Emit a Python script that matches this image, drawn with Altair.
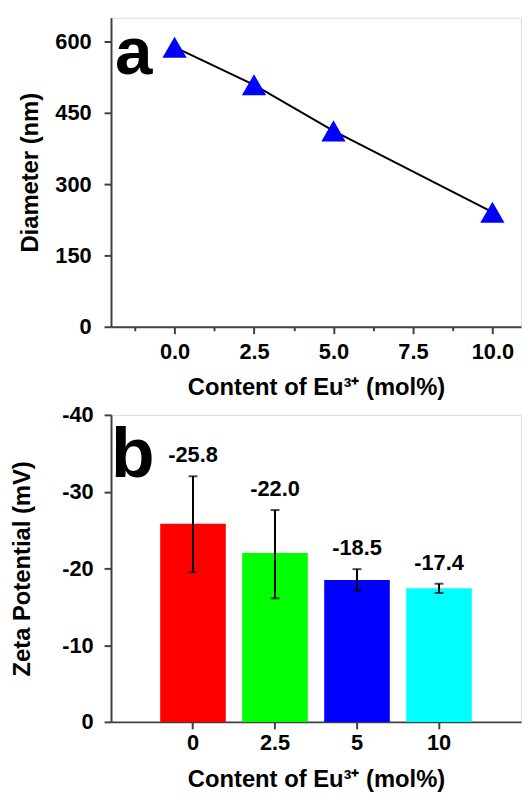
import altair as alt
import pandas as pd

# ---- panel a data ----
eu_a = [0, 2.5, 5, 10]
diameter = [588, 509, 412, 241]
x_ticks_a = [-1.25, 0, 1.25, 2.5, 3.75, 5, 6.25, 7.5, 8.75, 10]
y_ticks_a = [0, 75, 150, 225, 300, 375, 450, 525, 600]

# ---- panel b data ----
eu_b = ["0", "2.5", "5", "10"]
zeta = [-25.8, -22.0, -18.5, -17.4]
zeta_lo = [-19.5, -16.1, -17.1, -16.8]
zeta_hi = [-32.0, -27.6, -19.9, -18.0]
zeta_text = ["-25.8", "-22.0", "-18.5", "-17.4"]
bar_colors = ["#FF0000", "#00FF00", "#0000FF", "#00FFFF"]
y_ticks_b = [0, -5, -10, -15, -20, -25, -30, -35, -40]

panel_letters = ["a", "b"]

FONT = "Liberation Sans"
XTITLE = "Content of Eu\u00b3\u207a (mol%)"

df_a = pd.DataFrame({"eu": eu_a, "d": diameter})
df_b = pd.DataFrame({"cat": eu_b, "z": zeta, "lo": zeta_lo, "hi": zeta_hi, "t": zeta_text})


def tick_size(test):
    return {"condition": {"test": test, "value": 7}, "value": 4}


common_axis = dict(
    labelFont=FONT, labelFontSize=22, labelFontWeight="bold", labelColor="black",
    titleFont=FONT, titleFontSize=24, titleFontWeight="bold", titleColor="black",
    domainColor="#404040", domainWidth=2, tickColor="#404040", tickWidth=2,
    grid=False, labelOverlap=False, labelFlush=False,
)

xa = alt.X(
    "eu:Q",
    scale=alt.Scale(domain=[-2, 10.9], nice=False, zero=False),
    axis=alt.Axis(
        values=x_ticks_a,
        labelExpr="datum.value % 2.5 === 0 ? format(datum.value, '.1f') : ''",
        tickSize=tick_size("datum.value % 2.5 === 0"),
        labelPadding=8,
        titlePadding=13,
        title=XTITLE,
        **common_axis,
    ),
)
ya = alt.Y(
    "d:Q",
    scale=alt.Scale(domain=[0, 650], nice=False),
    axis=alt.Axis(
        values=y_ticks_a,
        labelExpr="datum.value % 150 === 0 ? '' + datum.value : ''",
        tickSize=tick_size("datum.value % 150 === 0"),
        labelPadding=13,
        titlePadding=12,
        title="Diameter (nm)",
        **common_axis,
    ),
)

line_a = alt.Chart(df_a).mark_line(color="black", strokeWidth=2).encode(x=xa, y=ya)
pts_a = alt.Chart(df_a).mark_point(
    shape="triangle-up", filled=True, size=600, color="#0000FF", opacity=1
).encode(x="eu:Q", y="d:Q")
letter_a = alt.Chart(pd.DataFrame({"L": [panel_letters[0]]})).mark_text(
    font=FONT, fontSize=68, fontWeight="bold", align="left", baseline="alphabetic",
    color="black",
).encode(x=alt.value(4), y=alt.value(57), text="L:N")

panel_a = alt.layer(line_a, pts_a, letter_a).properties(width=414, height=312)

xb = alt.X(
    "cat:N",
    sort=eu_b,
    scale=alt.Scale(paddingInner=0.2, paddingOuter=0.6),
    axis=alt.Axis(
        labelAngle=0, tickSize=7, labelPadding=4, titlePadding=14,
        title=XTITLE, **common_axis,
    ),
)
yb = alt.Y(
    "z:Q",
    scale=alt.Scale(domain=[0, -40], nice=False, zero=False),
    axis=alt.Axis(
        values=y_ticks_b,
        labelExpr="datum.value % 10 === 0 ? '' + datum.value : ''",
        tickSize=tick_size("datum.value % 10 === 0"),
        labelPadding=11,
        titlePadding=27,
        title="Zeta Potential (mV)",
        **common_axis,
    ),
)

bars = alt.Chart(df_b).mark_bar(opacity=1).encode(
    x=xb, y=yb,
    color=alt.Color("cat:N", scale=alt.Scale(domain=eu_b, range=bar_colors), legend=None),
)
err = alt.Chart(df_b).mark_rule(color="black", strokeWidth=2).encode(
    x=alt.X("cat:N", sort=eu_b), y="hi:Q", y2="lo:Q"
)
cap_hi = alt.Chart(df_b).mark_tick(color="black", thickness=2, size=9).encode(
    x=alt.X("cat:N", sort=eu_b), y="hi:Q"
)
cap_lo = alt.Chart(df_b).mark_tick(color="black", thickness=2, size=9).encode(
    x=alt.X("cat:N", sort=eu_b), y="lo:Q"
)
vals = alt.Chart(df_b).mark_text(
    font=FONT, fontSize=22, fontWeight="bold", baseline="middle", dy=-21, color="black"
).encode(x=alt.X("cat:N", sort=eu_b), y="hi:Q", text="t:N")
letter_b = alt.Chart(pd.DataFrame({"L": [panel_letters[1]]})).mark_text(
    font=FONT, fontSize=72, fontWeight="bold", align="left", baseline="alphabetic",
    color="black",
).encode(x=alt.value(0), y=alt.value(63), text="L:N")

panel_b = alt.layer(bars, err, cap_hi, cap_lo, vals, letter_b).properties(width=414, height=310)

chart = alt.vconcat(panel_a, panel_b, spacing=3).properties(
    padding={"left": 2, "top": 5, "right": 0, "bottom": 0}
).configure_view(stroke="#808080", strokeWidth=2).configure(background="white")

chart.save("out.html", embed_options={"renderer": "svg", "actions": False})
